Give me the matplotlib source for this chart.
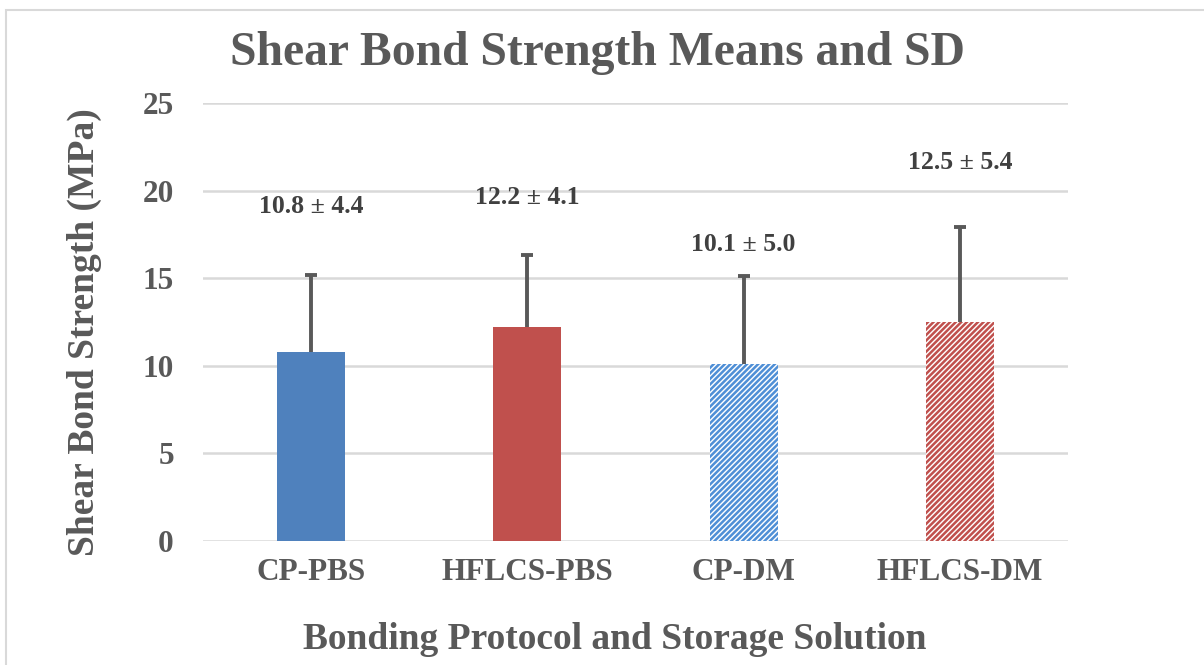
import numpy as np
import matplotlib.pyplot as plt
from matplotlib.patches import Rectangle

# Shear bond strength means and standard deviations
groups = ['CP-PBS', 'HFLCS-PBS', 'CP-DM', 'HFLCS-DM']
means = [10.8, 12.2, 10.1, 12.5]
sds = [4.4, 4.1, 5.0, 5.4]
label_y = [19.1, 19.6, 16.9, 21.6]  # where the value labels sit
colors = ['#4F81BD', '#C0504D', '#4F8FD6', '#C0504D']
hatched = [False, False, True, True]

plt.rcParams['font.family'] = ['Liberation Serif', 'DejaVu Serif']
plt.rcParams['font.weight'] = 'bold'
plt.rcParams['hatch.linewidth'] = 1.8
grey = '#595959'

fig = plt.figure(figsize=(12.04, 6.65), dpi=100)
ax = fig.add_axes([203/1204, 1 - 541/665, (1068-203)/1204, (541-103)/665])

# outer chart border (only top and left visible in the crop)
fig.patches.append(Rectangle((6/1204, -0.1), 1.2, (665-10)/665 + 0.1,
                             transform=fig.transFigure, fill=False,
                             edgecolor='#D9D9D9', linewidth=1.5))

x = np.arange(len(groups))
for i in range(len(groups)):
    if hatched[i]:
        ax.bar(x[i], means[i], width=0.314, color='white', edgecolor=colors[i],
               hatch='//////', linewidth=0, zorder=3)
    else:
        ax.bar(x[i], means[i], width=0.314, color=colors[i], zorder=3)
    eb = ax.errorbar(x[i], means[i], yerr=[[0], [sds[i]]], fmt='none', ecolor=grey,
                     elinewidth=2.8, capsize=4.3, capthick=2.8, zorder=4)
    eb[1][0].set_visible(False)  # only the upper cap
    ax.text(x[i], label_y[i], f'{means[i]:.1f} ± {sds[i]:.1f}', ha='center',
            va='center', fontsize=18.5, fontweight='bold', color='#404040')

ax.set_xlim(-0.5, 3.5)
ax.set_ylim(0, 25)
ax.set_yticks([0, 5, 10, 15, 20, 25])
ax.set_xticks(x)
ax.set_xticklabels(groups)
ax.tick_params(length=0, labelsize=22.5, colors=grey)
ax.tick_params(axis='y', pad=21)
ax.tick_params(axis='x', pad=12)
for lab in ax.get_xticklabels() + ax.get_yticklabels():
    lab.set_fontweight('bold')
ax.grid(axis='y', color='#D9D9D9', linewidth=1.8, zorder=0)
ax.set_axisbelow(True)
for s in ax.spines.values():
    s.set_visible(False)

ax.set_ylabel('Shear Bond Strength (MPa)', fontsize=27, fontweight='bold', color=grey)
ax.yaxis.set_label_coords((84 - 203) / 865, (541 - 332) / 438)
ax.yaxis.label.set_va('center')
ax.set_xlabel('Bonding Protocol and Storage Solution', fontsize=27, fontweight='bold', color=grey)
ax.xaxis.set_label_coords((615 - 203) / 865, (541 - 649) / 438)
ax.xaxis.label.set_va('baseline')
fig.text(598/1204, 1 - 65/665, 'Shear Bond Strength Means and SD', ha='center', va='baseline',
         fontsize=34.3, fontweight='bold', color=grey)

fig.savefig('out.png', dpi=100)
